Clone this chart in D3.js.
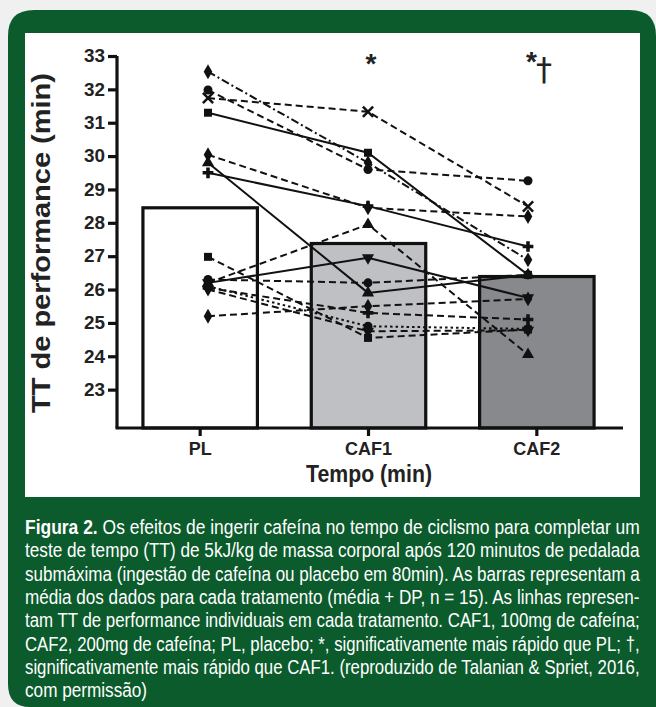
<!DOCTYPE html>
<html>
<head>
<meta charset="utf-8">
<script src="https://cdn.jsdelivr.net/npm/d3@7"></script>
<style>
  html, body { margin: 0; padding: 0; background: #f0f0f0; }
  body { width: 656px; height: 707px; position: relative; overflow: hidden; }
  #chart { position: absolute; left: 0; top: 0; }
</style>
</head>
<body>
<svg id="chart" width="656" height="707"></svg>
<script>
// treatments and bar means
var treatments = ["PL", "CAF1", "CAF2"];
var barMeans = [28.45, 27.38, 26.39];
var yTicks = [23, 24, 25, 26, 27, 28, 29, 30, 31, 32, 33];

// individual TT performance (min), one entry per subject
var subjPL   = [32.53, 31.98, 31.74, 31.30, 30.04, 29.50, 29.80, 26.20, 26.20, 26.30, 25.20, 26.98, 26.05, 26.10, 26.00];
var subjCAF1 = [29.80, 29.60, 31.33, 30.10, 28.45, 28.50, 25.90, 27.95, 26.95, 26.20, 25.50, 24.55, 25.30, 24.90, 24.75];
var subjCAF2 = [26.89, 29.26, 28.49, 26.44, 28.19, 27.29, 26.44, 24.05, 25.75, 26.44, 25.72, 24.80, 25.10, 24.82, 24.78];

// per-subject drawing style
var subjSymbol = ["diamond", "circle", "times", "square", "diamond", "plus", "triangle", "triangle",
                  "triangleDown", "circle", "diamond", "square", "plus", "circle", "triangleDown"];
var subjDash = ["dashdot", "dash", "dash", "solid", "dash", "solid", "solid", "dash",
                "solid", "dash", "dash", "dash", "dash", "dot", "dash"];

var caption = [
  ["Figura 2.", " Os efeitos de ingerir cafeína no tempo de ciclismo para completar um"],
  ["", "teste de tempo (TT) de 5kJ/kg de massa corporal após 120 minutos de pedalada"],
  ["", "submáxima (ingestão de cafeína ou placebo em 80min). As barras representam a"],
  ["", "média dos dados para cada tratamento (média + DP, n = 15). As linhas represen-"],
  ["", "tam TT de performance individuais em cada tratamento. CAF1, 100mg de cafeína;"],
  ["", "CAF2, 200mg de cafeína; PL, placebo; *, significativamente mais rápido que PL; †,"],
  ["", "significativamente mais rápido que CAF1. (reproduzido de Talanian & Spriet, 2016,"],
  ["", "com permissão)"]
];

var font = "'Liberation Sans', Arial, sans-serif";
var svg = d3.select("#chart");

// green frame and white chart area
svg.append("path")
  .attr("d", "M8,36 Q8,10 34,10 H630 Q656,10 656,36 V707 H30 Q8,707 8,684 Z")
  .attr("fill", "#0b5b2c");
svg.append("rect").attr("x", 25).attr("y", 33).attr("width", 615).attr("height", 464).attr("fill", "#fff");

var y = d3.scaleLinear().domain([21.85, 33]).range([428, 56]);
var x = d3.scaleBand().domain(treatments).range([116, 621]).paddingInner(0.32).paddingOuter(0.16);
var xp = d3.scalePoint().domain(treatments).range([208, 528]);

var barFill = ["#ffffff", "#bfc0c4", "#88898d"];

var g = svg.append("g");

// bars
g.selectAll("rect.bar").data(barMeans).enter().append("rect")
  .attr("class", "bar")
  .attr("x", function (d, i) { return x(treatments[i]); })
  .attr("width", x.bandwidth())
  .attr("y", function (d) { return y(d); })
  .attr("height", function (d) { return y(21.85) - y(d); })
  .attr("fill", function (d, i) { return barFill[i]; })
  .attr("stroke", "#111").attr("stroke-width", 3.2);

// individual lines
var dashes = { solid: null, dash: "7,4", dashdot: "8,3,2,3", dot: "2.5,3" };
var subjects = subjPL.map(function (v, i) { return [subjPL[i], subjCAF1[i], subjCAF2[i]]; });
var line = d3.line().x(function (d, i) { return xp(treatments[i]); }).y(function (d) { return y(d); });

g.selectAll("path.subj").data(subjects).enter().append("path")
  .attr("class", "subj")
  .attr("d", line)
  .attr("fill", "none").attr("stroke", "#111").attr("stroke-width", 2)
  .attr("stroke-dasharray", function (d, i) { return dashes[subjDash[i]]; });

var symType = {
  circle: d3.symbolCircle, square: d3.symbolSquare, triangle: d3.symbolTriangle,
  triangleDown: d3.symbolTriangle, diamond: d3.symbolDiamond, plus: d3.symbolCross, times: d3.symbolTimes
};
subjects.forEach(function (s, i) {
  var sym = d3.symbol().type(symType[subjSymbol[i]]).size(subjSymbol[i] === "times" ? 70 : 64);
  g.selectAll(null).data(s).enter().append("path")
    .attr("d", sym)
    .attr("transform", function (d, j) {
      return "translate(" + xp(treatments[j]) + "," + y(d) + ")" + (subjSymbol[i] === "triangleDown" ? " rotate(180)" : "");
    })
    .attr("fill", "#111")
    .attr("stroke", subjSymbol[i] === "times" ? "#111" : "none")
    .attr("stroke-width", 2.5);
});

// y axis
var yAxis = g.append("g").attr("transform", "translate(117,0)")
  .call(d3.axisLeft(y).tickValues(yTicks).tickSize(9).tickPadding(3).tickFormat(d3.format("d")));
yAxis.select(".domain").attr("d", "M0," + y(33) + "V" + y(21.85)).attr("stroke", "#111").attr("stroke-width", 3.2);
yAxis.selectAll(".tick line").attr("stroke", "#111").attr("stroke-width", 3.2);
yAxis.selectAll(".tick text").attr("font-family", font).attr("font-weight", "bold").attr("font-size", 18)
  .attr("fill", "#222").attr("textLength", 21).attr("lengthAdjust", "spacingAndGlyphs");

// x axis
var xAxis = g.append("g").attr("transform", "translate(0," + y(21.85) + ")")
  .call(d3.axisBottom(x).tickSize(8).tickPadding(6));
xAxis.select(".domain").attr("d", "M115.5,0H623").attr("stroke", "#111").attr("stroke-width", 3.2);
xAxis.selectAll(".tick line").attr("stroke", "#111").attr("stroke-width", 3.2);
xAxis.selectAll(".tick text").attr("font-family", font).attr("font-weight", "bold").attr("font-size", 18).attr("fill", "#222");

// axis titles
svg.append("text").attr("transform", "translate(50,243) rotate(-90)")
  .attr("text-anchor", "middle").attr("font-family", font).attr("font-weight", "bold").attr("font-size", 25)
  .attr("fill", "#222").attr("textLength", 340).attr("lengthAdjust", "spacingAndGlyphs")
  .text("TT de performance (min)");
svg.append("text").attr("x", 369).attr("y", 482)
  .attr("text-anchor", "middle").attr("font-family", font).attr("font-weight", "bold").attr("font-size", 24)
  .attr("fill", "#222").attr("textLength", 126).attr("lengthAdjust", "spacingAndGlyphs")
  .text("Tempo (min)");

// significance marks
svg.append("text").attr("x", xp("CAF1") + 3).attr("y", 73).attr("text-anchor", "middle")
  .attr("font-family", font).attr("font-size", 28).attr("font-weight", "bold").attr("fill", "#222").text("*");
svg.append("text").attr("x", xp("CAF2") + 9).attr("y", 71)
  .attr("font-family", font).attr("font-size", 28).attr("font-weight", "bold").attr("fill", "#222").attr("text-anchor", "end").text("*");
svg.append("text").attr("x", xp("CAF2") + 8).attr("y", 80)
  .attr("font-family", "'DejaVu Sans', sans-serif").attr("font-size", 32).attr("fill", "#222").text("†");

// caption: each line squeezed horizontally to the column width
var capTexts = svg.append("g").selectAll("text").data(caption).enter().append("text")
  .attr("font-family", font).attr("font-size", 19.5).attr("fill", "#fff");
capTexts.append("tspan").attr("font-weight", "bold").text(function (d) { return d[0]; });
capTexts.append("tspan").text(function (d) { return d[1]; });
var squeeze = 615 / capTexts.nodes()[1].getComputedTextLength();
capTexts.each(function (d, i) {
  var w = this.getComputedTextLength();
  var sx = i === caption.length - 1 ? squeeze : 615 / w;
  d3.select(this).attr("transform", "translate(25," + (534 + i * 23.3) + ") scale(" + sx + ",1)");
});
</script>
</body>
</html>
